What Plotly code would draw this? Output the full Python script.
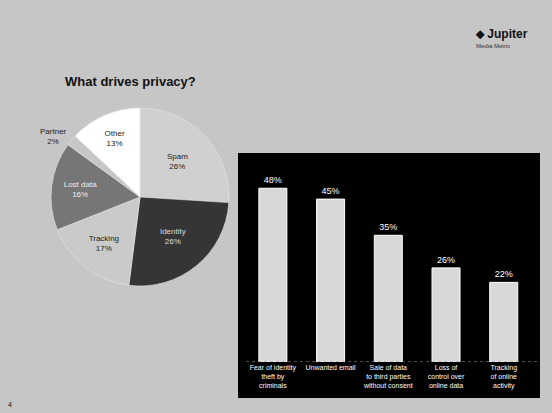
import plotly.graph_objects as go

# ---- data ----
pie_title = "What drives privacy?"
pie_labels = ["Spam", "Identity", "Tracking", "Lost data", "Partner", "Other"]
pie_values = [26, 26, 17, 16, 2, 13]
pie_colors = ["#d0d0d0", "#353535", "#cacaca", "#767676", "#c6c6c6", "#ffffff"]
pie_text_colors = ["#222222", "#dddddd", "#222222", "#eeeeee", "#222222", "#222222"]

bar_categories = [
    "Fear of identity<br>theft by<br>criminals",
    "Unwanted email",
    "Sale of data<br>to third parties<br>without consent",
    "Loss of<br>control over<br>online data",
    "Tracking<br>of online<br>activity",
]
bar_values = [48, 45, 35, 26, 22]
bar_labels = ["48%", "45%", "35%", "26%", "22%"]

W, H = 552, 413

fig = go.Figure()

fig.add_trace(go.Pie(
    labels=pie_labels,
    values=pie_values,
    sort=False,
    direction="clockwise",
    rotation=0,
    marker=dict(colors=pie_colors, line=dict(color="#e4e4e4", width=0.6)),
    text=[f"{l}<br>{v}%" for l, v in zip(pie_labels, pie_values)],
    textinfo="text",
    textposition=["inside", "inside", "inside", "inside", "outside", "inside"],
    insidetextorientation="horizontal",
    textfont=dict(family="Arial, Liberation Sans", size=8, color=pie_text_colors),
    outsidetextfont=dict(family="Arial, Liberation Sans", size=8, color="#222222"),
    domain=dict(x=[51 / W, 229 / W], y=[1 - 286 / H, 1 - 108 / H]),
    showlegend=False,
    hoverinfo="label+percent",
))

fig.add_trace(go.Bar(
    x=bar_categories,
    y=bar_values,
    text=bar_labels,
    textposition="outside",
    textfont=dict(family="Arial, Liberation Sans", size=9, color="#ffffff"),
    cliponaxis=False,
    marker=dict(color="#d8d8d8", line=dict(color="#ffffff", width=1)),
    showlegend=False,
    xaxis="x", yaxis="y",
))

fig.update_layout(
    width=W, height=H,
    margin=dict(l=0, r=0, t=0, b=0),
    paper_bgcolor="#c6c6c6",
    plot_bgcolor="rgba(0,0,0,0)",
    bargap=0.515,
    xaxis=dict(
        domain=[244 / W, 532.6 / W],
        anchor="y",
        showgrid=False, zeroline=False, showline=False,
        ticks="",
        tickfont=dict(family="Arial, Liberation Sans", size=7, color="#ffffff"),
        tickangle=0,
    ),
    yaxis=dict(
        domain=[51 / H, 253 / H],
        range=[0, 55.8],
        visible=False,
    ),
    shapes=[
        dict(type="rect", xref="paper", yref="paper",
             x0=238 / W, x1=540 / W, y0=1 - 398 / H, y1=1 - 153 / H,
             fillcolor="#000000", line=dict(width=0), layer="below"),
        dict(type="line", xref="paper", yref="y",
             x0=246 / W, x1=538 / W, y0=0, y1=0,
             line=dict(color="#9a9a9a", width=1, dash="dot")),
    ],
    annotations=[
        dict(text="<b>" + pie_title + "</b>", xref="paper", yref="paper",
             x=130 / W, y=1 - 82 / H, xanchor="center", yanchor="middle",
             showarrow=False,
             font=dict(family="Arial, Liberation Sans", size=13, color="#111111")),
        dict(text="<b>\u2b25 Jupiter</b>", xref="paper", yref="paper",
             x=530 / W, y=1 - 34 / H, xanchor="right", yanchor="middle",
             showarrow=False,
             font=dict(family="Arial, Liberation Sans", size=12, color="#111111")),
        dict(text="Media Metrix", xref="paper", yref="paper",
             x=512 / W, y=1 - 46 / H, xanchor="right", yanchor="middle",
             showarrow=False,
             font=dict(family="Arial, Liberation Sans", size=6, color="#333333")),
        dict(text="4", xref="paper", yref="paper",
             x=6 / W, y=1 - 404 / H, xanchor="left", yanchor="middle",
             showarrow=False,
             font=dict(family="Arial, Liberation Sans", size=7, color="#111111")),
    ],
)

fig.write_html("out.html")
